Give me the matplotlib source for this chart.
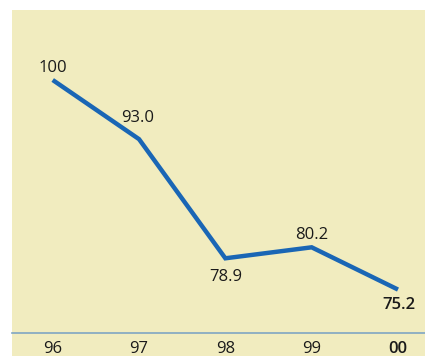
import matplotlib.pyplot as plt
from matplotlib.patches import Rectangle

years = ['96', '97', '98', '99', '00']
index_values = [100, 93.0, 78.9, 80.2, 75.2]
value_labels = ['100', '93.0', '78.9', '80.2', '75.2']
# label offsets in points (dx, dy) from each point, dy > 0 is above
label_offsets = [(0, 9.9), (-0.7, 16.8), (0, -12.0), (0, 10.0), (0.7, -9.9)]

W, H = 425, 356
fig = plt.figure(figsize=(W / 100, H / 100), dpi=100, facecolor='white')
plt.rcParams['font.family'] = ['Open Sans', 'DejaVu Sans']

# pale yellow panel behind the chart and its tick labels
panel = Rectangle((12 / W, 0), 1 - 12 / W, 1 - 9.5 / H,
                  transform=fig.transFigure, facecolor='#F1ECBF',
                  edgecolor='none', zorder=-10)
fig.add_artist(panel)

ax = fig.add_axes([12 / W, (H - 333) / H, (W - 12) / W, (333 - 9.5) / H])
ax.set_facecolor('none')
ax.set_zorder(1)

x = list(range(len(years)))
ax.plot(x, index_values, color='#1A66B5', linewidth=3.2, solid_capstyle='butt',
        solid_joinstyle='miter')

for i, (v, lab, off) in enumerate(zip(index_values, value_labels, label_offsets)):
    last = i == len(years) - 1
    ax.annotate(lab, (i, v), xytext=off, textcoords='offset points',
                ha='center', va='center_baseline', fontsize=12,
                color='#1a1a1a', fontweight='semibold' if last else 'normal')

ax.set_xlim((12 - 52.7) / 86.3, 4 + (425 - 398) / 86.3)
ax.set_ylim(100 - 253 / 8.45, 100 + 70.5 / 8.45)

for side in ['top', 'left', 'right']:
    ax.spines[side].set_visible(False)
ax.spines['bottom'].set_color('#7FA6C3')
ax.spines['bottom'].set_linewidth(1.2)

ax.set_yticks([])
ax.set_xticks(x)
ax.set_xticklabels(years, fontsize=12, color='#1a1a1a')
ax.get_xticklabels()[-1].set_fontweight('semibold')
ax.tick_params(axis='x', length=0, pad=5.5)

fig.savefig('out.png', dpi=100, facecolor='white')
